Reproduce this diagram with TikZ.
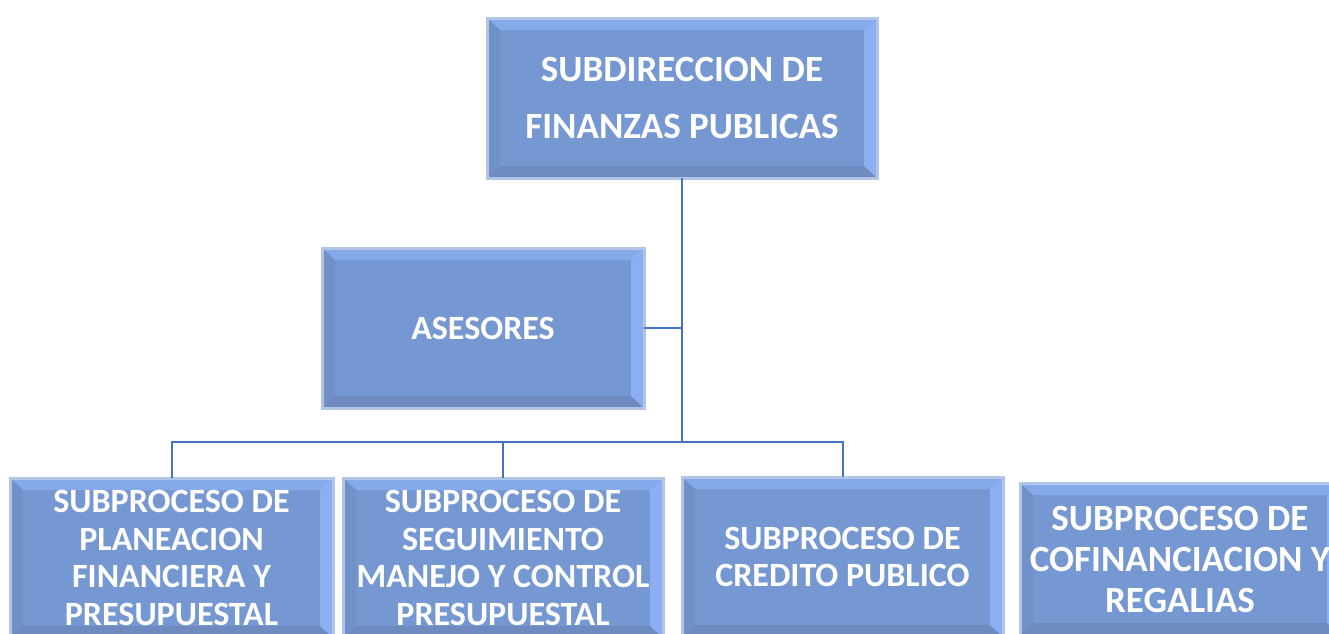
\documentclass[tikz,border=0pt]{standalone}
\usepackage{fontspec}
\setmainfont{Carlito}
\definecolor{boxfill}{HTML}{7698D2}
\definecolor{bord}{HTML}{B3C5E6}
\definecolor{bevtop}{HTML}{86A9EA}
\definecolor{bevright}{HTML}{8BAFF2}
\definecolor{bevleft}{HTML}{7290C8}
\definecolor{bevbot}{HTML}{6F8ABE}
\definecolor{conncol}{HTML}{4472C4}
\tikzset{
  bx/.style={rectangle, draw=bord, line width=3pt, fill=boxfill, outer sep=0pt, inner sep=0pt,
    text=white, align=center,
    path picture={
      \fill[bevtop] (path picture bounding box.north west) -- (path picture bounding box.north east)
        -- ([xshift=-13pt,yshift=-12pt]path picture bounding box.north east)
        -- ([xshift=13pt,yshift=-12pt]path picture bounding box.north west) -- cycle;
      \fill[bevbot] (path picture bounding box.south west) -- (path picture bounding box.south east)
        -- ([xshift=-13pt,yshift=12pt]path picture bounding box.south east)
        -- ([xshift=13pt,yshift=12pt]path picture bounding box.south west) -- cycle;
      \fill[bevleft] (path picture bounding box.north west) -- (path picture bounding box.south west)
        -- ([xshift=13pt,yshift=12pt]path picture bounding box.south west)
        -- ([xshift=13pt,yshift=-12pt]path picture bounding box.north west) -- cycle;
      \fill[bevright] (path picture bounding box.north east) -- (path picture bounding box.south east)
        -- ([xshift=-13pt,yshift=12pt]path picture bounding box.south east)
        -- ([xshift=-13pt,yshift=-12pt]path picture bounding box.north east) -- cycle;
    }},
  conn/.style={draw=conncol, line width=2pt}
}
\begin{document}
\begin{tikzpicture}[x=1pt,y=-1pt]
\useasboundingbox (0,0) rectangle (1329,633);
\clip (0,0) rectangle (1329,633);
\node[bx, minimum width=390pt, minimum height=160pt, font=\bfseries\fontsize{37}{57}\selectfont] (top) at (682,98)
  {SUBDIRECCION DE\\ FINANZAS PUBLICAS};
\node[bx, minimum width=322pt, minimum height=160pt, font=\bfseries\fontsize{34}{40}\selectfont] (ases) at (483,328)
  {ASESORES};
\node[bx, minimum width=323pt, minimum height=160pt, font=\bfseries\fontsize{34}{37.5}\selectfont] (b1) at (171.5,558)
  {SUBPROCESO DE\\ PLANEACION\\ FINANCIERA Y\\ PRESUPUESTAL};
\node[bx, minimum width=320pt, minimum height=160pt, font=\bfseries\fontsize{34}{37.5}\selectfont] (b2) at (503,558)
  {SUBPROCESO DE\\ SEGUIMIENTO\\ MANEJO Y CONTROL\\ PRESUPUESTAL};
\node[bx, minimum width=321pt, minimum height=160pt, font=\bfseries\fontsize{34}{37.5}\selectfont] (b3) at (842.5,557)
  {SUBPROCESO DE\\ CREDITO PUBLICO};
\node[bx, minimum width=320pt, minimum height=152pt, font=\bfseries\fontsize{37}{41}\selectfont] (b4) at (1180,559)
  {SUBPROCESO DE\\ COFINANCIACION Y\\ REGALIAS};
\coordinate (j) at (682,442);
\draw[conn] (top.south) -- (j);
\draw[conn] (ases.east) -- (ases.east -| top.south);
\draw[conn] (b1.north) |- (b3.north |- j) -- (b3.north);
\draw[conn] (b2.north) -- (b2.north |- j);
\end{tikzpicture}
\end{document}
